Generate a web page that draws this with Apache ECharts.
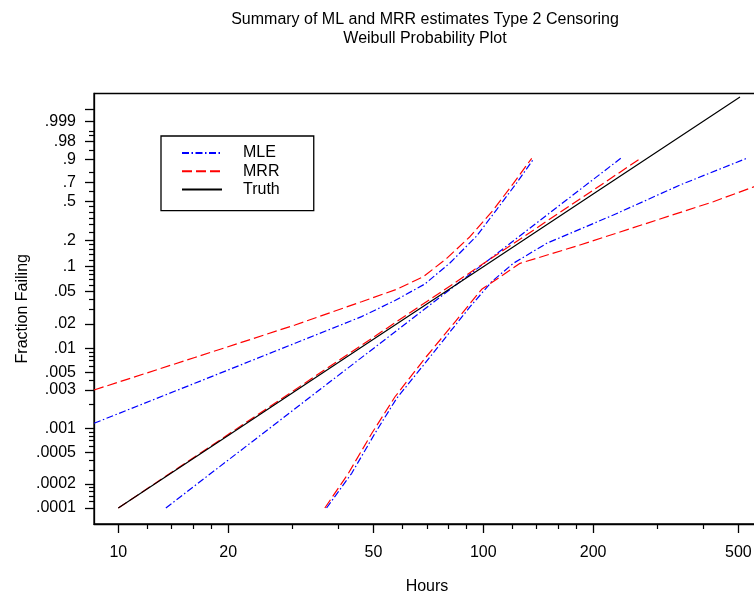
<!DOCTYPE html>
<html><head><meta charset="utf-8">
<script src="https://cdn.jsdelivr.net/npm/echarts@6/dist/echarts.min.js"></script>
<style>html,body{margin:0;padding:0;background:#fff}#c{width:754px;height:594px}</style>
</head><body><div id="c"></div>
<script>
const FONT = '"Liberation Sans", Arial, sans-serif';

// ---- data (hours, fraction failing) ----
const truthHours = [10, 20, 50, 100, 200, 505];
const truthF     = [0.0001, 0.00081, 0.0129, 0.0999, 0.574, 0.9999992];

const mleHours = [13.5, 238];
const mleF     = [0.0001, 0.9088];
const mrrHours = [10, 270];
const mrrF     = [0.0001, 0.9088];

const mleUpperHours = [8.58, 16.2, 30.5, 46.4, 57.3, 69.2, 81.0, 95.9, 108.8, 123.4, 137.7];
const mleUpperF     = [0.00115, 0.00364, 0.0115, 0.0246, 0.0389, 0.0619, 0.1104, 0.2250, 0.4212, 0.6911, 0.9088];
const mrrUpperHours = [8.58, 16.2, 30.5, 46.4, 57.9, 68.5, 79.4, 91.9, 106.5, 120.9, 135.7];
const mrrUpperF     = [0.0030, 0.00764, 0.0194, 0.0376, 0.0533, 0.0757, 0.1253, 0.2209, 0.4166, 0.688, 0.9088];

const mleLowerHours = [37.2, 43.6, 50.5, 57.9, 69.2, 91.9, 105.4, 120.9, 149.2, 227.1, 345.9, 526.7];
const mleLowerF     = [0.0001, 0.000272, 0.000862, 0.00236, 0.00646, 0.0324, 0.0659, 0.1095, 0.1865, 0.3729, 0.6701, 0.9088];
const mrrLowerHours = [36.8, 42.7, 49.5, 57.3, 69.2, 83.6, 99.0, 126.1, 184.0, 280.4, 426.7, 573];
const mrrLowerF     = [0.0001, 0.000272, 0.000862, 0.00247, 0.00746, 0.0211, 0.0533, 0.1095, 0.1784, 0.3075, 0.4958, 0.675];

// ---- tick values ----
const xMajorTicks = [10, 20, 50, 100, 200, 500];
const xMinorTicks = [12, 14, 16, 18, 30, 40, 60, 70, 80, 90, 120, 140, 160, 180, 300, 400];
const yLabelF     = [0.0001, 0.0002, 0.0005, 0.001, 0.003, 0.005, 0.01, 0.02, 0.05, 0.1, 0.2, 0.5, 0.7, 0.9, 0.98, 0.999];
const yLabelText  = ['.0001', '.0002', '.0005', '.001', '.003', '.005', '.01', '.02', '.05', '.1', '.2', '.5', '.7', '.9', '.98', '.999'];
const yExtraMajorF = [0.99995];
const yMinorF = [0.00012, 0.00014, 0.00016, 0.00018, 0.0003, 0.0004, 0.0006, 0.0007, 0.0008, 0.0009,
  0.002, 0.004, 0.006, 0.007, 0.008, 0.009, 0.03, 0.04, 0.06, 0.07, 0.08, 0.09,
  0.12, 0.14, 0.16, 0.18, 0.25, 0.3, 0.35, 0.4, 0.45, 0.6, 0.8, 0.95, 0.99, 0.995];

// ---- scales ----
const wb = f => Math.log(-Math.log(1 - f));
const lg = h => Math.log10(h);
const XMIN = 0.93342, XMAX = 2.7581;
const YMIN = -9.6717, YMAX = 2.7420;

const pts = (H, F) => H.map((h, i) => [lg(h), wb(F[i])]);

const BLUE = '#0000ff', RED = '#ff0000';
const mleStyle = { color: BLUE, width: 1.2, type: [7, 2.5, 1.5, 2.5] };
const mrrStyle = { color: RED, width: 1.2, type: [10, 4] };
const truthStyle = { color: '#000', width: 1.2, type: 'solid' };

function line(name, data, ls) {
  return { name, type: 'line', data, symbol: 'none', showSymbol: false, smooth: false,
    lineStyle: ls, itemStyle: { color: ls.color }, xAxisIndex: 0, yAxisIndex: 0, animation: false, clip: true };
}

const txt = { fontFamily: FONT, fontSize: 16, color: '#000' };

const option = {
  animation: false,
  backgroundColor: '#fff',
  title: {
    text: 'Summary of ML and MRR estimates Type 2 Censoring\nWeibull Probability Plot',
    left: 425, top: 10, textAlign: 'center', padding: 0,
    textStyle: { fontFamily: FONT, fontSize: 16, fontWeight: 'normal', color: '#000', lineHeight: 19 }
  },
  legend: {
    orient: 'vertical', left: 161, top: 136,
    data: ['MLE', 'MRR', 'Truth'],
    itemWidth: 40, itemHeight: 14, itemGap: 2.3,
    padding: [9, 34, 13, 20],
    borderColor: '#000', borderWidth: 1.3, backgroundColor: '#fff',
    itemStyle: { opacity: 0, borderWidth: 0 },
    textStyle: { fontFamily: FONT, fontSize: 16, color: '#000', lineHeight: 16, padding: [0, 0, 0, 16] },
    selectedMode: false
  },
  grid: { left: 94, right: -6, top: 93.5, bottom: 70, show: true, borderColor: '#000', borderWidth: 1.3,
    backgroundColor: 'transparent', containLabel: false, outerBoundsMode: 'none' },
  xAxis: [
    { type: 'value', min: XMIN, max: XMAX, position: 'bottom',
      axisLine: { onZero: false, lineStyle: { color: '#000', width: 1.3 } },
      axisTick: { show: true, length: 9, customValues: xMajorTicks.map(lg), lineStyle: { color: '#000', width: 1.3 } },
      axisLabel: { customValues: xMajorTicks.map(lg), margin: 21, ...txt,
        formatter: v => String(Math.round(Math.pow(10, v))) },
      splitLine: { show: false },
      name: 'Hours', nameLocation: 'middle', nameGap: 55, nameMoveOverlap: false, nameTextStyle: txt },
    { type: 'value', min: XMIN, max: XMAX, position: 'bottom',
      axisLine: { show: false, onZero: false },
      axisTick: { show: true, length: 5, customValues: xMinorTicks.map(lg), lineStyle: { color: '#000', width: 1.2 } },
      axisLabel: { show: false }, splitLine: { show: false } }
  ],
  yAxis: [
    { type: 'value', min: YMIN, max: YMAX, position: 'left',
      axisLine: { onZero: false, lineStyle: { color: '#000', width: 1.3 } },
      axisTick: { show: true, length: 9, customValues: yLabelF.concat(yExtraMajorF).map(wb), lineStyle: { color: '#000', width: 1.3 } },
      axisLabel: { customValues: yLabelF.map(wb), margin: 18, ...txt,
        formatter: v => { let b = 0, bd = 1e9; yLabelF.forEach((f, i) => { const d = Math.abs(wb(f) - v); if (d < bd) { bd = d; b = i; } }); return yLabelText[b]; } },
      splitLine: { show: false },
      name: 'Fraction Failing', nameLocation: 'middle', nameGap: 63, nameRotate: 90, nameMoveOverlap: false, nameTextStyle: txt },
    { type: 'value', min: YMIN, max: YMAX, position: 'left',
      axisLine: { show: false, onZero: false },
      axisTick: { show: true, length: 5, customValues: yMinorF.map(wb), lineStyle: { color: '#000', width: 1.2 } },
      axisLabel: { show: false }, splitLine: { show: false } }
  ],
  series: [
    line('MLE', pts(mleHours, mleF), mleStyle),
    line('MRR', pts(mrrHours, mrrF), mrrStyle),
    line('Truth', pts(truthHours, truthF), truthStyle),
    line('MLE', pts(mleUpperHours, mleUpperF), mleStyle),
    line('MLE', pts(mleLowerHours, mleLowerF), mleStyle),
    line('MRR', pts(mrrUpperHours, mrrUpperF), mrrStyle),
    line('MRR', pts(mrrLowerHours, mrrLowerF), mrrStyle)
  ]
};

const chart = echarts.init(document.getElementById('c'), null, { renderer: 'canvas' });
chart.setOption(option);
</script>
</body></html>
